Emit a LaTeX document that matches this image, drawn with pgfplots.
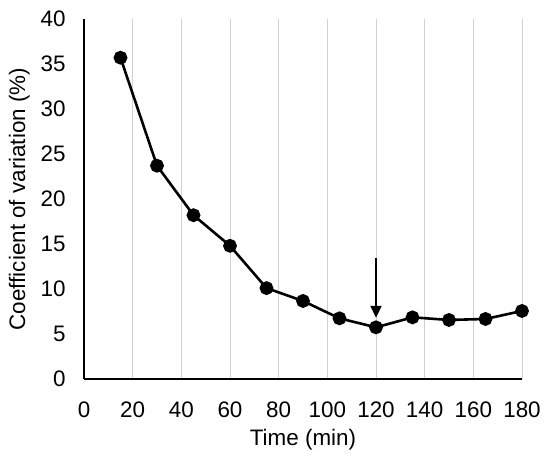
\documentclass[border=0pt]{standalone}
\usepackage{pgfplots}
\pgfplotsset{compat=1.18}
\usepackage{fontspec}
\setmainfont{Liberation Sans}
\usetikzlibrary{arrows.meta}
\begin{document}
\begin{tikzpicture}
\useasboundingbox (-84bp,-80bp) rectangle (466bp,379bp);
\begin{axis}[
  at={(0,0)}, anchor=south west,
  scale only axis, width=438bp, height=360bp,
  xmin=0, xmax=180, ymin=0, ymax=40,
  xtick={0,20,...,180}, ytick={0,5,...,40},
  axis x line*=bottom, axis y line*=left,
  axis line style={line width=1.4bp, -},
  major tick length=0pt,
  xmajorgrids, major grid style={draw=black!18, line width=0.8bp},
  tick label style={font=\fontsize{22.5}{26}\selectfont},
  /pgf/number format/assume math mode=true,
  xticklabel style={yshift=-19bp},
  yticklabel style={xshift=-15bp},
  xlabel={Time (min)}, ylabel={Coefficient of variation (\%)},
  label style={font=\fontsize{22.5}{26}\selectfont},
  xlabel style={yshift=-5bp},
  ylabel style={yshift=4bp},
  clip=false,
]
\addplot[black, line width=2.6bp, mark=*, mark size=5.6bp, mark options={fill=black}] coordinates {
(15,35.7) (30,23.7) (45,18.2) (60,14.8) (75,10.1) (90,8.67) (105,6.74) (120,5.74) (135,6.85) (150,6.56) (165,6.67) (180,7.56)
};
\draw[line width=2bp, -{Triangle[width=11bp,length=12bp]}] (axis cs:120,13.4) -- (axis cs:120,6.8);
\end{axis}
\end{tikzpicture}
\end{document}
